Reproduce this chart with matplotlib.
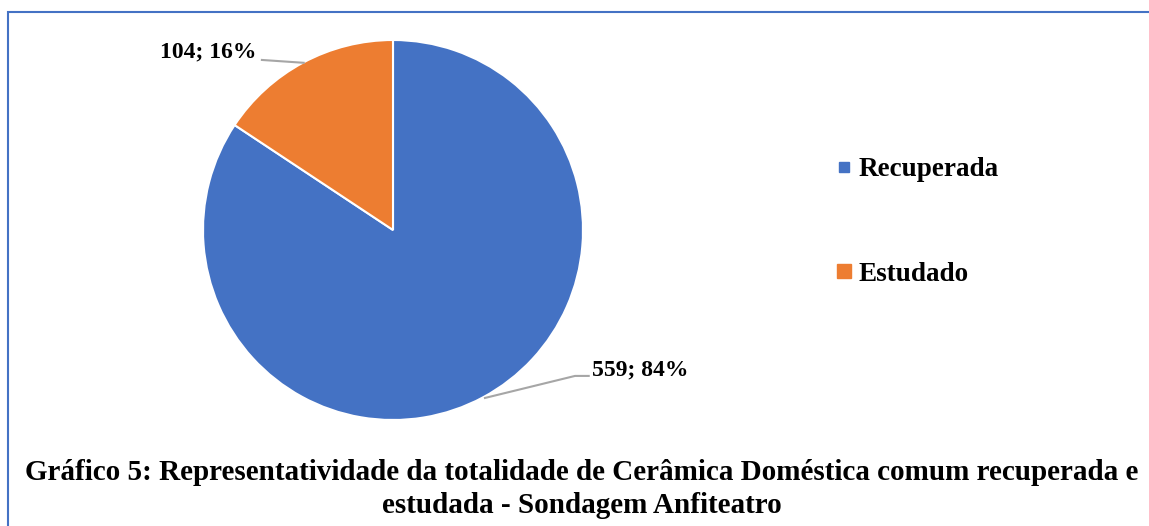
import matplotlib
matplotlib.use("Agg")
import matplotlib.pyplot as plt
from matplotlib.lines import Line2D
from matplotlib.patches import Rectangle

plt.rcParams['font.family'] = ['Liberation Serif', 'DejaVu Serif']
plt.rcParams['font.weight'] = 'bold'

categorias = ["Recuperada", "Estudado"]
valores = [559, 104]
percentagens = [84, 16]
cores = ["#4472C4", "#ED7D31"]
titulo = ("Gráfico 5: Representatividade da totalidade de Cerâmica Doméstica comum recuperada e\n"
          "estudada - Sondagem Anfiteatro")

W, H = 1149, 526
fig = plt.figure(figsize=(W / 100, H / 100), dpi=100)

# pie centre ~ (393, 230) px, radius ~190 px
cx, cy, r = 393, 230, 190
ax = fig.add_axes([(cx - r) / W, (H - cy - r) / H, 2 * r / W, 2 * r / H])
ax.pie(valores, colors=cores, startangle=90, counterclock=False, radius=1,
       wedgeprops=dict(edgecolor="white", linewidth=1.5))
ax.set_xlim(-1, 1)
ax.set_ylim(-1, 1)
ax.set_aspect("equal", adjustable="box")
ax.axis("off")

# data labels with leader lines
lbl = [f"{v}; {p}%" for v, p in zip(valores, percentagens)]
ax.plot([-0.47, -0.69], [0.88, 0.895], color="#A6A6A6", lw=1.5, clip_on=False)
ax.text(-0.72, 0.935, lbl[1], ha="right", va="center", fontsize=17, fontweight="bold")
ax.plot([0.484, 0.958, 1.03], [-0.884, -0.768, -0.768], color="#A6A6A6", lw=1.5, clip_on=False)
ax.text(1.045, -0.737, lbl[0], ha="left", va="center", fontsize=17, fontweight="bold")

handles = [Line2D([], [], marker="s", linestyle="none", markersize=ms, color=c)
           for c, ms in zip(cores, [6.5, 10])]
fig.legend(handles, categorias, loc="center left", bbox_to_anchor=(822 / W, 1 - 222 / H),
           frameon=False, prop=dict(size=19.5, weight="bold"), labelspacing=2.95,
           handlelength=0.6, handletextpad=0.25, borderpad=0)

fig.text(582 / W, 1 - 489 / H, titulo, ha="center", va="center", fontsize=21,
         fontweight="bold", linespacing=1.28)

fig.add_artist(Rectangle((8 / W, -0.1), 1.2, (H - 12) / H + 0.1, transform=fig.transFigure,
                         fill=False, edgecolor="#4472C4", linewidth=1.5))

fig.savefig("out.png", dpi=100)
